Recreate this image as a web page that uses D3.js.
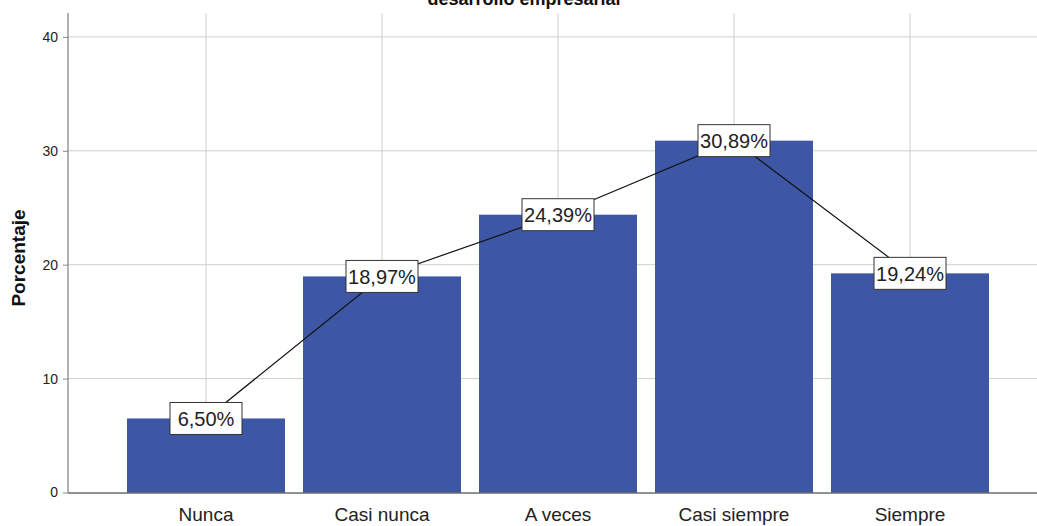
<!DOCTYPE html>
<html><head><meta charset="utf-8">
<script src="https://cdn.jsdelivr.net/npm/d3@7"></script>
<style>body{margin:0;background:#fff}svg{display:block}</style>
</head><body>
<script>
const categories = ["Nunca","Casi nunca","A veces","Casi siempre","Siempre"];
const values = [6.50,18.97,24.39,30.89,19.24];
const labels = ["6,50%","18,97%","24,39%","30,89%","19,24%"];
const yTicks = [0,10,20,30,40];
const title = "desarrollo empresarial";
const yTitle = "Porcentaje";

const W=1037,H=526;
const svg=d3.select("body").append("svg").attr("width",W).attr("height",H);
const font="Liberation Sans, Arial, sans-serif";
const x0=68, x1=1037, yTop=13;
const y=d3.scaleLinear().domain([0,40]).range([492.5,36.9]);
const x=d3.scaleBand().domain(categories).range([118,998]).paddingInner(0.1023).paddingOuter(0.0511);

// gridlines
svg.append("g").selectAll("line").data(yTicks.filter(d=>d>0)).join("line")
  .attr("x1",x0).attr("x2",x1).attr("y1",d=>y(d)).attr("y2",d=>y(d))
  .attr("stroke","#cfcfcf").attr("stroke-width",1);
svg.append("g").selectAll("line").data(categories).join("line")
  .attr("x1",d=>x(d)+x.bandwidth()/2).attr("x2",d=>x(d)+x.bandwidth()/2)
  .attr("y1",yTop).attr("y2",y(0))
  .attr("stroke","#cfcfcf").attr("stroke-width",1);

// bars
svg.append("g").selectAll("rect").data(values).join("rect")
  .attr("x",(d,i)=>x(categories[i])).attr("width",x.bandwidth())
  .attr("y",d=>y(d)).attr("height",d=>y(0)-y(d))
  .attr("fill","#3d57a5");

// y axis
const ya=svg.append("g").attr("transform",`translate(${x0},0)`)
  .call(d3.axisLeft(y).tickValues(yTicks).tickSize(5).tickPadding(5));
ya.select(".domain").attr("d",`M0,${yTop}V${y(0)}`).attr("stroke","#666");
ya.selectAll(".tick line").attr("stroke","#888");
ya.selectAll("text").attr("font-family",font).attr("font-size",14).attr("fill","#222");

// x axis line
svg.append("line").attr("x1",x0).attr("x2",x1).attr("y1",y(0)+0.5).attr("y2",y(0)+0.5).attr("stroke","#222");
const xa=svg.append("g").attr("transform",`translate(0,${y(0)})`)
  .call(d3.axisBottom(x).tickSize(0).tickPadding(15));
xa.select(".domain").remove();
xa.selectAll("text").attr("font-family",font).attr("font-size",19).attr("fill","#222");

// line
const line=d3.line().x((d,i)=>x(categories[i])+x.bandwidth()/2).y(d=>y(d));
svg.append("path").datum(values).attr("d",line).attr("fill","none").attr("stroke","#111").attr("stroke-width",1.2);

// labels
const lg=svg.append("g").selectAll("g").data(values).join("g")
  .attr("transform",(d,i)=>`translate(${x(categories[i])+x.bandwidth()/2},${y(d)})`);
lg.append("rect").attr("x",-36).attr("y",-16).attr("width",72).attr("height",32)
  .attr("fill","#fff").attr("stroke","#333").attr("stroke-width",1);
lg.append("text").text((d,i)=>labels[i]).attr("text-anchor","middle").attr("dy","0.36em")
  .attr("font-family",font).attr("font-size",20).attr("fill","#222");

// titles
svg.append("text").attr("x",524).attr("y",5).attr("text-anchor","middle")
  .attr("font-family",font).attr("font-weight","bold").attr("font-size",18).attr("fill","#111").text(title);
svg.append("text").attr("transform","translate(25,258) rotate(-90)").attr("text-anchor","middle")
  .attr("font-family",font).attr("font-weight","bold").attr("font-size",19).attr("fill","#111").text(yTitle);
</script>
</body></html>
